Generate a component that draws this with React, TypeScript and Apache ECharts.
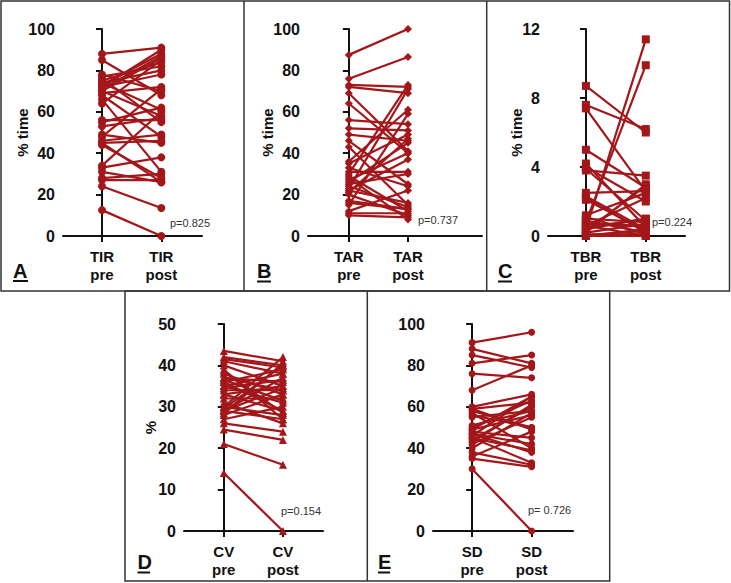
import React, { useEffect, useRef } from "react";
import * as echarts from "echarts";

const aPre = [88, 85, 78, 77, 76, 75, 74, 73, 72, 71, 70, 69, 68, 66, 64, 56, 55, 53, 49, 48, 46, 45, 44, 34, 33, 31, 28, 27, 24, 12.5, 70, 72, 74, 45];
const aPost = [91, 68, 70, 82, 55, 84, 80, 88, 90, 87, 86, 72, 48, 31, 85, 56, 62, 57, 45, 71, 49, 46, 28, 60, 38, 26, 30, 27, 13.5, 0, 58, 78, 61, 26];

const bPre = [87.5, 76, 73, 72, 69, 64, 56, 52, 49, 46, 43, 36, 35, 31, 30, 29, 26, 25, 23, 22, 21, 16, 15, 12, 11, 10, 22, 24, 28, 33, 20, 27, 17];
const bPost = [100, 86.5, 72, 69, 41, 40, 54, 51, 46, 25, 15, 61, 49, 31, 73, 12, 45, 30, 71, 37, 47, 13, 59, 22, 11, 9, 16, 14, 8, 24, 10, 40, 13];

const cPre = [8.7, 7.6, 7.4, 5.0, 4.2, 3.8, 2.5, 2.1, 1.0, 0.8, 0.4, 0.6, 0.2, 0.1, 0, 0.5, 0.9, 2.3, 3.9, 4.0, 0.3, 0.7, 1.1, 0.05, 0.2, 0.4, 0.6, 1.2, 2.2, 0];
const cPost = [6.0, 6.2, 2.6, 2.8, 0.5, 3.5, 2.6, 0.3, 0.8, 9.9, 11.4, 2.2, 3.0, 0.1, 0, 1.0, 0.2, 0.4, 0.9, 2.0, 2.9, 0.6, 0.1, 0.3, 0.7, 1.0, 0, 2.5, 0.2, 0.4];

const dPre = [14, 21, 24.5, 26, 43.5, 42, 41, 40, 38, 37, 36, 35, 34, 33, 30, 29.5, 29, 28, 29, 30, 31, 36, 37, 35, 32, 27, 39, 33, 28.5, 36.5, 34.5, 41.5, 38.5, 29];
const dPost = [0, 16, 22, 24, 41, 40, 38, 35, 33, 36, 39, 31, 34, 29, 42, 40, 37, 33, 27, 28, 26, 29, 34, 38, 32, 30, 27, 35, 40.5, 31.5, 36.5, 39.5, 28.5, 34.5];

const ePre = [91, 88, 85, 81, 76, 68, 60, 59, 58, 57, 55, 50, 49, 48, 47, 46, 45, 44, 42, 40, 38, 36, 35, 30, 59, 47, 45, 49, 51, 56, 43];
const ePost = [96, 81, 79, 85, 74, 80, 66, 62, 50, 40, 58, 63, 56, 45, 38, 65, 33, 60, 55, 57, 32, 48, 31, 0, 49, 42, 39, 65, 58, 50, 61];

const measures = ["TIR", "TAR", "TBR", "CV", "SD"];
const timepoints = ["pre", "post"];
const yNames = ["% time", "% time", "% time", "%", ""];
const yMax = [100, 100, 12, 50, 100];
const yStep = [20, 20, 4, 10, 20];
const pValues = ["p=0.825", "p=0.737", "p=0.224", "p=0.154", "p= 0.726"];
const letters = ["A", "B", "C", "D", "E"];

const COLOR = "#A3171B";
const FONT = "'Liberation Sans', Arial, sans-serif";

export default function App() {
  const ref = useRef<HTMLDivElement>(null);
  useEffect(() => {
    document.body.style.margin = "0";
    if (!ref.current) return;
    const chart = echarts.init(ref.current, undefined, { renderer: "svg" });

    const panels = [
      { pre: aPre, post: aPost, grid: { left: 63, top: 29, width: 139, height: 207 }, xr: [-0.658, 1.686], sym: "circle", size: 8, gap: 33 },
      { pre: bPre, post: bPost, grid: { left: 308, top: 29, width: 174, height: 207 }, xr: [-0.69, 2.25], sym: "diamond", size: 8, gap: 33 },
      { pre: cPre, post: cPost, grid: { left: 548, top: 29, width: 137, height: 207 }, xr: [-0.633, 1.655], sym: "rect", size: 8, gap: 24 },
      { pre: dPre, post: dPost, grid: { left: 184, top: 324, width: 139, height: 207 }, xr: [-0.673, 1.678], sym: "triangle", size: 8, gap: 26 },
      { pre: ePre, post: ePost, grid: { left: 433, top: 324, width: 140, height: 207 }, xr: [-0.657, 1.695], sym: "circle", size: 7, gap: 33 },
    ];

    const grids: any[] = [];
    const xAxes: any[] = [];
    const yAxes: any[] = [];
    const series: any[] = [];

    panels.forEach((p, i) => {
      grids.push({ ...p.grid, containLabel: false });
      xAxes.push({
        type: "value",
        gridIndex: i,
        min: p.xr[0],
        max: p.xr[1],
        splitLine: { show: false },
        axisLine: { show: true, lineStyle: { color: "#111", width: 2 } },
        axisTick: { show: true, customValues: [0, 1], length: 6, lineStyle: { color: "#111", width: 2 } },
        axisLabel: {
          customValues: [0, 1],
          formatter: (v: number) => `${measures[i]}\n${timepoints[v < 0.5 ? 0 : 1]}`,
          color: "#111",
          fontFamily: FONT,
          fontWeight: "bold",
          fontSize: 15,
          lineHeight: 17.5,
          margin: 12,
        },
      });
      yAxes.push({
        type: "value",
        gridIndex: i,
        min: 0,
        max: yMax[i],
        interval: yStep[i],
        name: yNames[i],
        nameLocation: "middle",
        nameGap: p.gap,
        nameMoveOverlap: false,
        nameTextStyle: { color: "#111", fontFamily: FONT, fontWeight: "bold", fontSize: 15 },
        splitLine: { show: false },
        axisLine: { show: true, lineStyle: { color: "#111", width: 2 } },
        axisTick: { show: true, length: 6, lineStyle: { color: "#111", width: 2 } },
        axisLabel: { color: "#111", fontFamily: FONT, fontWeight: "bold", fontSize: 16, margin: 8 },
      });
      p.pre.forEach((v, k) => {
        series.push({
          type: "line",
          xAxisIndex: i,
          yAxisIndex: i,
          data: [[0, v], [1, p.post[k]]],
          symbol: p.sym,
          symbolSize: p.size,
          showSymbol: true,
          silent: true,
          itemStyle: { color: COLOR },
          lineStyle: { color: COLOR, width: 2.2 },
          z: 3,
        });
      });
    });

    const border = { stroke: "#333", lineWidth: 1.5 };
    const letterPos = [
      { x: 13, y: 271, u: [13, 28, 281] },
      { x: 257, y: 271, u: [257, 271, 281.5] },
      { x: 498, y: 271, u: [498, 512, 281.5] },
      { x: 137.5, y: 562, u: [137.5, 150, 572.5] },
      { x: 378, y: 562, u: [378, 390, 572.5] },
    ];
    const pPos = [
      { x: 170, y: 223 },
      { x: 418, y: 220 },
      { x: 652, y: 222 },
      { x: 281, y: 511 },
      { x: 528, y: 510 },
    ];

    const graphics: any[] = [
      { type: "rect", shape: { x: 1, y: 1, width: 728.5, height: 290 }, style: { ...border, fill: "none" }, z: 1 },
      { type: "line", shape: { x1: 244, y1: 1, x2: 244, y2: 291 }, style: border },
      { type: "line", shape: { x1: 486.7, y1: 1, x2: 486.7, y2: 291 }, style: border },
      { type: "rect", shape: { x: 125, y: 291, width: 484.7, height: 290 }, style: { ...border, fill: "none" } },
      { type: "line", shape: { x1: 367.3, y1: 291, x2: 367.3, y2: 581 }, style: border },
    ];
    letters.forEach((l, i) => {
      const lp = letterPos[i];
      graphics.push({
        type: "text",
        style: { text: l, x: lp.x, y: lp.y, verticalAlign: "middle", align: "left", fill: "#111", font: `bold 20px ${FONT}` },
      });
      graphics.push({
        type: "line",
        shape: { x1: lp.u[0], y1: lp.u[2], x2: lp.u[1], y2: lp.u[2] },
        style: { stroke: "#111", lineWidth: 2 },
      });
    });
    pValues.forEach((t, i) => {
      graphics.push({
        type: "text",
        style: { text: t, x: pPos[i].x, y: pPos[i].y, verticalAlign: "middle", align: "left", fill: "#333", font: `11px ${FONT}` },
      });
    });

    chart.setOption({
      animation: false,
      backgroundColor: "#fff",
      grid: grids,
      xAxis: xAxes,
      yAxis: yAxes,
      series,
      graphic: graphics,
    });
    return () => chart.dispose();
  }, []);
  return <div ref={ref} style={{ width: 731, height: 583 }} />;
}
